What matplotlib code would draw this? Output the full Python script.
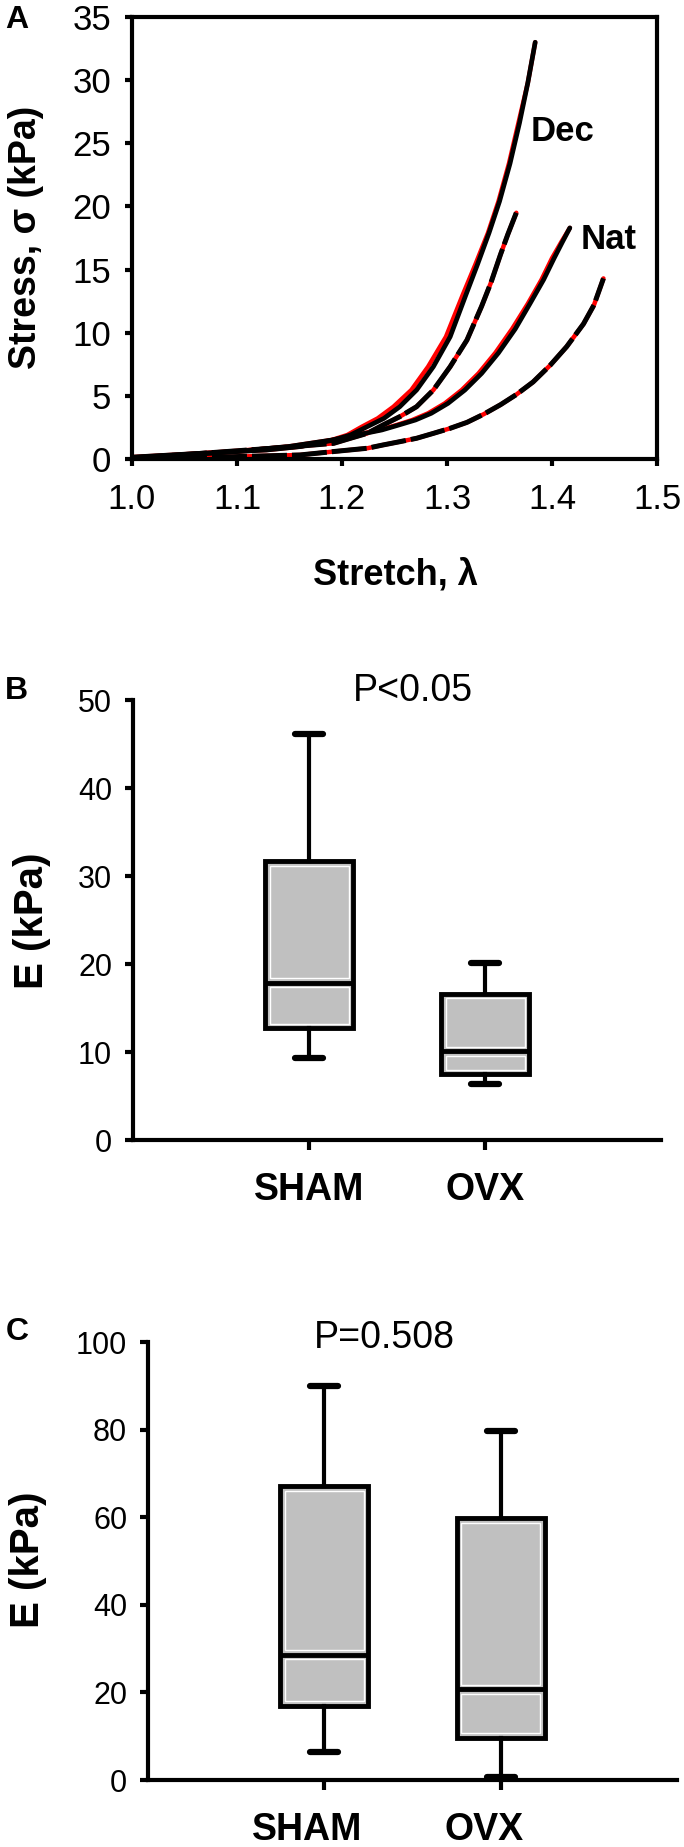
import matplotlib
matplotlib.use('Agg')
import matplotlib.pyplot as plt
import matplotlib.transforms as mtransforms
from matplotlib.patches import Rectangle

plt.rcParams['font.family'] = ['Liberation Sans', 'DejaVu Sans']

W, H = 684, 1847

# ---- panel A: stress vs stretch (black = data, red = fit) ----
DEC_SOLID_X = [1.000, 1.065, 1.128, 1.160, 1.192, 1.208, 1.224, 1.240, 1.255, 1.271,
               1.287, 1.303, 1.318, 1.329, 1.340, 1.350, 1.360, 1.369, 1.377, 1.384]
DEC_SOLID_Y = [0.15, 0.45, 0.71, 0.98, 1.50, 1.90, 2.56, 3.22, 4.14, 5.46,
               7.31, 9.68, 13.0, 15.4, 17.9, 20.4, 23.4, 26.6, 29.8, 33.0]
DEC_SOLID_FIT_X = [1.000, 1.065, 1.128, 1.160, 1.190, 1.205, 1.219, 1.234, 1.249, 1.266,
                   1.282, 1.299, 1.315, 1.327, 1.339, 1.349, 1.359, 1.368, 1.377, 1.384]

DEC_DASH_X = [1.000, 1.050, 1.100, 1.150, 1.192, 1.208, 1.224, 1.239, 1.255, 1.271,
              1.287, 1.303, 1.319, 1.333, 1.342, 1.351, 1.358, 1.366]
DEC_DASH_Y = [0.10, 0.35, 0.65, 0.95, 1.24, 1.64, 2.03, 2.69, 3.35, 4.14,
              5.46, 7.31, 9.42, 12.1, 14.0, 16.2, 17.8, 19.5]

NAT_SOLID_X = [1.000, 1.050, 1.100, 1.150, 1.190, 1.222, 1.238, 1.254, 1.270, 1.285,
               1.301, 1.317, 1.333, 1.349, 1.365, 1.379, 1.392, 1.402, 1.410, 1.417]
NAT_SOLID_Y = [0.05, 0.30, 0.60, 1.00, 1.50, 2.03, 2.30, 2.69, 3.09, 3.62,
               4.41, 5.46, 6.78, 8.40, 10.3, 12.3, 14.2, 15.9, 17.2, 18.3]
NAT_SOLID_FIT_X = [1.000, 1.050, 1.100, 1.150, 1.190, 1.220, 1.236, 1.252, 1.267, 1.282,
                   1.298, 1.314, 1.330, 1.346, 1.362, 1.377, 1.390, 1.400, 1.409, 1.417]

NAT_DASH_X = [1.000, 1.080, 1.160, 1.192, 1.224, 1.239, 1.255, 1.271, 1.287, 1.303,
              1.319, 1.335, 1.351, 1.366, 1.382, 1.398, 1.414, 1.430, 1.440, 1.449]
NAT_DASH_Y = [0.00, 0.15, 0.32, 0.59, 0.85, 1.11, 1.37, 1.64, 2.03, 2.43,
              2.90, 3.55, 4.30, 5.10, 6.10, 7.40, 8.90, 10.7, 12.2, 14.3]

A_XTICKS = [1.0, 1.1, 1.2, 1.3, 1.4, 1.5]
A_YTICKS = [0, 5, 10, 15, 20, 25, 30, 35]

# ---- panels B and C: box plots of E (kPa) ----
GROUPS = ['SHAM', 'OVX']
B_WHISLO = [9.3, 6.4]
B_Q1 = [12.7, 7.5]
B_MED = [17.85, 10.1]
B_Q3 = [31.7, 16.6]
B_WHISHI = [46.1, 20.1]

C_WHISLO = [6.4, 0.7]
C_Q1 = [16.9, 9.7]
C_MED = [28.6, 20.7]
C_Q3 = [67.1, 59.8]
C_WHISHI = [90.0, 79.6]

B_YTICKS = [0, 10, 20, 30, 40, 50]
C_YTICKS = [0, 20, 40, 60, 80, 100]


def fx(px):
    return px / W


def fy(py):
    return 1 - py / H


fig = plt.figure(figsize=(W / 100, H / 100), dpi=100)

# ================= panel A =================
axA = fig.add_axes([fx(132), fy(459), fx(657) - fx(132), fy(17) - fy(459)])
for x, y in [(DEC_SOLID_FIT_X, DEC_SOLID_Y), (DEC_DASH_X, DEC_DASH_Y),
             (NAT_SOLID_FIT_X, NAT_SOLID_Y), (NAT_DASH_X, NAT_DASH_Y)]:
    axA.plot(x, y, color='#ff0000', lw=3.2, solid_capstyle='round', zorder=2)
for x, y in [(DEC_SOLID_X, DEC_SOLID_Y), (NAT_SOLID_X, NAT_SOLID_Y)]:
    axA.plot(x, y, color='black', lw=3.4, solid_capstyle='round', zorder=3)
for x, y in [(DEC_DASH_X, DEC_DASH_Y), (NAT_DASH_X, NAT_DASH_Y)]:
    axA.plot(x, y, color='black', lw=3.6, dashes=(7, 1.0), zorder=3)

axA.set_xlim(1.0, 1.5)
axA.set_ylim(0, 35)
axA.set_xticks(A_XTICKS)
axA.set_xticklabels([f'{t:.1f}' for t in A_XTICKS])
axA.set_yticks(A_YTICKS)
for s in axA.spines.values():
    s.set_linewidth(3)
axA.tick_params(axis='both', direction='out', length=5, width=3, labelsize=25)
axA.tick_params(axis='x', pad=12)
axA.tick_params(axis='y', pad=10)
axA.text(1.380, 25.9, 'Dec', fontsize=25, fontweight='bold', va='center', ha='left')
axA.text(1.4276, 17.4, 'Nat', fontsize=25, fontweight='bold', va='center', ha='left')

fig.text(fx(395), fy(575), 'Stretch, λ', fontsize=26, fontweight='bold',
         ha='center', va='center')
fig.text(fx(26), fy(237), 'Stress, σ (kPa)', fontsize=27, fontweight='bold',
         ha='center', va='center', rotation=90)
fig.text(fx(17), fy(20), 'A', fontsize=23, fontweight='bold', ha='center', va='center')


# ================= panels B, C =================
def box_panel(ax, whislo, q1, med, q3, whishi, yticks, ymax, label_shift):
    stats = []
    for i, g in enumerate(GROUPS):
        stats.append(dict(label=g, whislo=whislo[i], q1=q1[i], med=med[i],
                          q3=q3[i], whishi=whishi[i], fliers=[]))
    pos = [1, 2]
    ax.bxp(stats, positions=pos, widths=0.5, patch_artist=True, showfliers=False,
           boxprops=dict(facecolor='#c0c0c0', edgecolor='black', linewidth=3.5),
           medianprops=dict(color='black', linewidth=3.5, solid_capstyle='butt'),
           whiskerprops=dict(color='black', linewidth=3),
           capprops=dict(color='black', linewidth=4.5, solid_capstyle='round'),
           capwidths=0.16)
    ax.set_xlim(0, 3)
    ax.set_ylim(0, ymax)
    ax.set_yticks(yticks)
    ax.set_xticks(pos)
    ax.set_xticklabels(GROUPS, fontsize=27, fontweight='bold')
    for s in ['top', 'right']:
        ax.spines[s].set_visible(False)
    for s in ['left', 'bottom']:
        ax.spines[s].set_linewidth(3)
    ax.tick_params(axis='y', direction='out', length=6, width=3, labelsize=22, pad=9)
    ax.tick_params(axis='x', direction='out', length=7, width=3, pad=16)
    offset = mtransforms.ScaledTranslation(label_shift / 100, 0, fig.dpi_scale_trans)
    for lab in ax.get_xticklabels():
        lab.set_transform(lab.get_transform() + offset)

    # thin white inner highlight of each half box
    dx = 4.5 / (ax.bbox.width / 3.0)
    dy = 4.5 / (ax.bbox.height / ymax)
    for i in range(len(GROUPS)):
        x0 = pos[i] - 0.25 + dx
        wbox = 0.5 - 2 * dx
        for lo, hi in [(q1[i], med[i]), (med[i], q3[i])]:
            ax.add_patch(Rectangle((x0, lo + dy), wbox, hi - lo - 2 * dy,
                                   fill=False, edgecolor='white', lw=1.0, zorder=4))


axB = fig.add_axes([fx(133), fy(1140), fx(661) - fx(133), fy(700) - fy(1140)])
box_panel(axB, B_WHISLO, B_Q1, B_MED, B_Q3, B_WHISHI, B_YTICKS, 50, 0)
fig.text(fx(413), fy(691), 'P<0.05', fontsize=27, ha='center', va='center')
fig.text(fx(32), fy(921), 'E (kPa)', fontsize=29, fontweight='bold',
         ha='center', va='center', rotation=90)
fig.text(fx(16), fy(691), 'B', fontsize=23, fontweight='bold', ha='center', va='center')

axC = fig.add_axes([fx(148), fy(1780), fx(677) - fx(148), fy(1342) - fy(1780)])
box_panel(axC, C_WHISLO, C_Q1, C_MED, C_Q3, C_WHISHI, C_YTICKS, 100, -17)
fig.text(fx(384), fy(1338), 'P=0.508', fontsize=27, ha='center', va='center')
fig.text(fx(28), fy(1560), 'E (kPa)', fontsize=29, fontweight='bold',
         ha='center', va='center', rotation=90)
fig.text(fx(17), fy(1332), 'C', fontsize=23, fontweight='bold', ha='center', va='center')

fig.savefig('out.png', dpi=100)
